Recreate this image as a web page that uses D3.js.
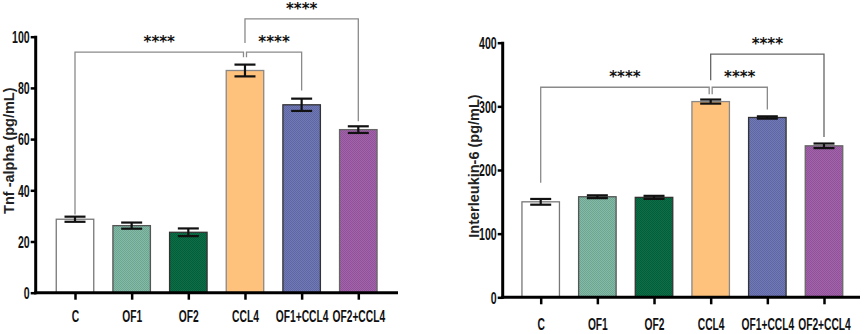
<!DOCTYPE html>
<html><head><meta charset="utf-8">
<script src="https://cdn.jsdelivr.net/npm/d3@7"></script>
<style>
body{margin:0;background:#fff;}
svg{display:block;}
.tick text{font-family:"Liberation Sans",Arial,sans-serif;font-weight:bold;}
</style></head>
<body>
<svg id="chart" width="865" height="334"></svg>
<script>
const categories = ["C","OF1","OF2","CCL4","OF1+CCL4","OF2+CCL4"];
const tnfValues = [28.7, 26.2, 23.6, 86.8, 73.4, 63.7];
const tnfErrors = [1.0, 1.2, 1.5, 2.3, 2.4, 1.3];
const il6Values = [150, 158, 157, 307.5, 282.5, 238];
const il6Errors = [4.5, 2.2, 2.4, 3.2, 1.8, 3.6];
const tnfTicks = [0,20,40,60,80,100];
const il6Ticks = [0,100,200,300,400];
const colors = ["#ffffff","#83bba7","#0b7047","#ffc27d","#717ab6","#a464ac"];
const darkColors = ["#ffffff","#6ea592","#075c39","#ffc27d","#5f67a3","#8f5298"];
const strokes = ["#777","#555","#333","#888","#333","#666"];
// significance comparisons: [fromIndex, toIndex]
const comparisons = [[0,3],[3,4],[3,5]];
const sigLabel = "****";

const svg = d3.select("#chart");
const defs = svg.append("defs");
colors.forEach((c,i)=>{
  const p = defs.append("pattern").attr("id","pat"+i).attr("patternUnits","userSpaceOnUse")
    .attr("width",2).attr("height",2);
  p.append("rect").attr("width",2).attr("height",2).attr("fill",c);
  if(i!==0 && i!==3){
    p.append("rect").attr("width",1).attr("height",1).attr("fill",darkColors[i]);
    p.append("rect").attr("x",1).attr("y",1).attr("width",1).attr("height",1).attr("fill",darkColors[i]);
  }
});

function condense(sel, k){
  sel.each(function(){
    const t = d3.select(this);
    const x0 = +t.attr("x") || 0;
    t.attr("x", x0/k).attr("transform", `scale(${k},1)`);
  });
}

function drawPanel(cfg){
  const g = svg.append("g");
  const x = d3.scalePoint().domain(categories).range(cfg.xRange);
  const bw = 37.5;
  const y = d3.scaleLinear().domain([0,cfg.max]).range([cfg.y0,cfg.yTop]);
  const cx = c => x(c);

  // brackets
  const br = g.append("g").attr("fill","none").attr("stroke-width",1.3);
  cfg.brackets.forEach((b,k)=>{
    const [a,c] = comparisons[k];
    const xa = cx(categories[a]) + (b.ga||0), xc = cx(categories[c]) + (b.gc||0);
    const yh = y(b.h);
    br.append("path").attr("stroke",b.color||"#8a8a8a")
      .attr("d",`M${xa},${y(b.ya)}V${yh}H${xc}V${y(b.yc)}`);
    g.append("text").attr("x",(xa+xc)/2 + (b.tx||0)).attr("y",yh-5)
      .attr("text-anchor","middle").attr("font-family","DejaVu Sans, sans-serif")
      .attr("font-weight","bold").attr("font-size",15).attr("fill","#111").text(sigLabel);
  });

  // bars
  g.selectAll("rect.bar").data(cfg.values).join("rect").attr("class","bar")
    .attr("x",(d,i)=>cx(categories[i])-bw/2).attr("width",bw)
    .attr("y",d=>y(d)).attr("height",d=>y(0)-y(d))
    .attr("fill",(d,i)=>`url(#pat${i})`).attr("stroke",(d,i)=>strokes[i]).attr("stroke-width",1.3);

  // error bars
  const eb = g.append("g").attr("stroke","#111").attr("stroke-width",2.2);
  cfg.values.forEach((v,i)=>{
    const c = cx(categories[i]), e = cfg.errors[i], hw = 10.5;
    eb.append("line").attr("x1",c).attr("x2",c).attr("y1",y(v+e)).attr("y2",y(v-e));
    eb.append("line").attr("x1",c-hw).attr("x2",c+hw).attr("y1",y(v+e)).attr("y2",y(v+e));
    eb.append("line").attr("x1",c-hw).attr("x2",c+hw).attr("y1",y(v-e)).attr("y2",y(v-e));
  });

  // y axis
  const ya = g.append("g").attr("transform",`translate(${cfg.axisX},0)`)
    .call(d3.axisLeft(y).tickValues(cfg.ticks).tickSize(5).tickPadding(1));
  ya.select(".domain").remove();
  ya.selectAll(".tick line").attr("stroke","#000").attr("stroke-width",2.5);
  ya.selectAll(".tick text").attr("font-size",16).attr("fill","#111").attr("dy","0.36em");
  condense(ya.selectAll(".tick text"), 0.66);
  g.append("line").attr("x1",cfg.axisX).attr("x2",cfg.axisX).attr("y1",cfg.yTop-1).attr("y2",cfg.y0+1.5)
    .attr("stroke","#000").attr("stroke-width",3);

  // x axis
  const xa = g.append("g").attr("transform",`translate(0,${cfg.y0})`)
    .call(d3.axisBottom(x).tickSize(7).tickPadding(cfg.labelPad));
  xa.select(".domain").remove();
  xa.selectAll(".tick line").attr("stroke","#000").attr("stroke-width",2.5);
  xa.selectAll(".tick text").attr("font-size",16).attr("fill","#111");
  condense(xa.selectAll(".tick text"), 0.64);
  g.append("line").attr("x1",cfg.axisX-1.5).attr("x2",cfg.xEnd).attr("y1",cfg.y0).attr("y2",cfg.y0)
    .attr("stroke","#000").attr("stroke-width",3);

  // y title
  g.append("text").attr("transform",`translate(${cfg.titleX},${(cfg.y0+cfg.yTop)/2+cfg.titleDy}) rotate(-90)`)
    .attr("text-anchor","middle").attr("font-family","Liberation Sans, Arial, sans-serif")
    .attr("font-weight","bold").attr("font-size",14.5).attr("fill","#222").text(cfg.title);
}

drawPanel({
  values:tnfValues, errors:tnfErrors, ticks:tnfTicks, max:100,
  xRange:[75,358.3], y0:292.7, yTop:36.7, axisX:35.7, xEnd:398, labelPad:11,
  title:"Tnf -alpha (pg/mL)", titleX:14, titleDy:-14,
  brackets:[
    {h:94, ya:30.5, yc:92, gc:-1.5},
    {h:94, ya:92, yc:79, ga:1.5},
    {h:107, ya:97.5, yc:67}
  ]
});
drawPanel({
  values:il6Values, errors:il6Errors, ticks:il6Ticks, max:400,
  xRange:[540.7,824], y0:297.3, yTop:42.7, axisX:502.7, xEnd:860, labelPad:14,
  title:"Interleukin-6 (pg/mL)", titleX:479, titleDy:-4,
  brackets:[
    {h:330, ya:180, yc:319, gc:-1.5},
    {h:330, ya:319, yc:295, ga:1.5},
    {h:382, ya:341, yc:252, color:"#666"}
  ]
});
</script>
</body></html>
